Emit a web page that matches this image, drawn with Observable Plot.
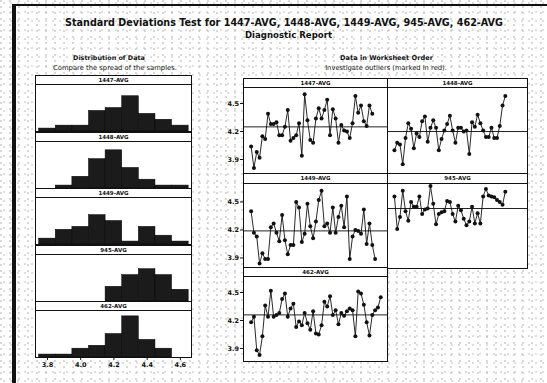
<!DOCTYPE html>
<html><head><meta charset="utf-8">
<script src="https://cdn.jsdelivr.net/npm/d3@7"></script>
<script src="https://cdn.jsdelivr.net/npm/@observablehq/plot@0.6"></script>
<style>
html,body{margin:0;padding:0;background:#fff;}
#page{position:relative;width:547px;height:383px;overflow:hidden;background-color:#fff;
 background-image:
   radial-gradient(circle at 1px 1px,#a0a0a0 0.5px,transparent 0.85px),
   radial-gradient(circle at 4px 3px,#b0b0b0 0.5px,transparent 0.85px);
 background-size:9px 6px, 7px 9px;}
.t{position:absolute;white-space:nowrap;font-family:"DejaVu Sans",sans-serif;color:#111;transform:translate(-50%,-50%);line-height:1;}
.p{position:absolute;}
.p svg{overflow:visible;}
</style></head><body><div id="page"></div>
<script>
// ---- data ----
const seriesNames = ["1447-AVG", "1448-AVG", "1449-AVG", "945-AVG", "462-AVG"];
const binStarts = [3.75, 3.85, 3.95, 4.05, 4.15, 4.25, 4.35, 4.45, 4.55];
const binWidth = 0.1;
const counts1447 = [1, 2, 2, 7, 8, 12, 6, 4, 2];
const counts1448 = [0, 1, 4, 10, 13, 7, 3, 1, 1];
const counts1449 = [2, 5, 6, 10, 8, 1, 6, 3, 1];
const counts945  = [0, 0, 0, 0, 5, 9, 11, 9, 4];
const counts462  = [1, 1, 3, 4, 8, 14, 6, 3, 0];
const histTicks = [3.8, 4.0, 4.2, 4.4, 4.6];

const obs1447 = [4.04,3.81,3.98,3.92,4.15,4.12,4.39,4.28,4.28,4.30,4.16,4.16,4.25,4.43,4.10,4.13,4.16,4.29,3.94,4.60,4.32,4.11,4.08,4.34,4.45,4.34,4.43,4.54,4.16,4.44,4.34,4.08,4.27,4.21,4.20,4.13,4.29,4.58,4.40,4.48,4.31,4.26,4.48,4.39];
const obs1448 = [4.00,4.08,4.06,3.85,4.13,4.29,4.23,4.02,4.18,4.14,4.31,4.36,4.09,4.24,4.32,4.24,4.00,4.12,4.21,4.28,4.37,4.21,4.08,4.24,4.24,4.20,4.21,3.96,4.30,4.25,4.38,4.29,4.21,4.14,4.14,4.24,4.13,4.13,4.26,4.48,4.58];
const obs1449 = [4.40,4.17,4.13,3.84,3.95,3.89,3.89,4.23,4.27,4.17,4.08,4.36,4.09,3.94,4.04,4.04,4.50,4.44,4.07,4.16,4.48,4.24,4.11,4.29,4.52,4.62,4.24,4.27,4.17,4.44,4.17,4.34,4.46,4.23,4.56,3.89,4.13,4.20,4.19,4.16,4.42,4.05,4.27,4.04,3.89];
const obs945  = [4.56,4.21,4.34,4.62,4.40,4.30,4.50,4.45,4.45,4.56,4.37,4.42,4.43,4.67,4.48,4.26,4.37,4.39,4.40,4.51,4.50,4.37,4.29,4.46,4.41,4.32,4.25,4.29,4.45,4.27,4.38,4.27,4.56,4.64,4.57,4.56,4.55,4.52,4.50,4.47,4.61];
const obs462  = [4.18,4.24,3.88,3.83,4.03,4.36,4.24,4.52,4.24,4.26,4.28,4.43,4.49,4.24,4.33,4.38,4.13,4.19,4.15,4.28,4.17,4.10,4.30,4.06,4.05,4.15,4.40,4.35,4.46,4.26,4.31,4.16,4.28,4.25,4.30,4.33,4.31,4.03,4.51,4.49,4.37,4.18,4.04,4.26,4.31,4.34,4.45];
const seriesMeans = [4.25, 4.20, 4.19, 4.43, 4.26];
const seriesTicks = [3.9, 4.2, 4.5];

const titleText = "Standard Deviations Test for 1447-AVG, 1448-AVG, 1449-AVG, 945-AVG, 462-AVG";
const subtitleText = "Diagnostic Report";
const leftHead = "Distribution of Data";
const leftSub = "Compare the spread of the samples.";
const rightHead = "Data in Worksheet Order";
const rightSub = "Investigate outliers (marked in red).";

// ---- page ----
const page = document.getElementById("page");
const ink = "#111";
const font = "DejaVu Sans, sans-serif";

function box(l, t, w, h, bg) {
  const d = document.createElement("div");
  d.style.cssText = `position:absolute;left:${l}px;top:${t}px;width:${w}px;height:${h}px;background:${bg};`;
  page.appendChild(d);
}
box(12, 4, 535, 2, ink);   // top border
box(12, 4, 4, 379, ink);   // left border

function addText(txt, cx, cy, w, weight) {
  const el = document.createElement("div");
  el.className = "t";
  el.textContent = txt;
  el.style.fontWeight = weight;
  el.style.fontSize = "10px";
  page.appendChild(el);
  const w0 = el.getBoundingClientRect().width;
  el.style.fontSize = (10 * w / w0).toFixed(2) + "px";
  el.style.left = cx + "px";
  el.style.top = cy + "px";
}
addText(titleText, 284, 23, 438, "bold");
addText(subtitleText, 288.5, 35, 87, "bold");
addText(leftHead, 109, 58, 72, "bold");
addText(leftSub, 115, 67.5, 124, "normal");
addText(rightHead, 386.5, 58, 93, "bold");
addText(rightSub, 386, 67.5, 122, "normal");

function place(node, l, t) {
  const d = document.createElement("div");
  d.className = "p";
  d.style.left = l + "px";
  d.style.top = t + "px";
  d.appendChild(node);
  page.appendChild(d);
}

// ---- histograms ----
const histCounts = [counts1447, counts1448, counts1449, counts945, counts462];
const histTops = [75, 131.5, 188, 244.5, 301];
const stripH = 9, histPlotH = 47;
const histLeft = 35, histW = 156;
histCounts.forEach((counts, k) => {
  const bins = binStarts.map((b, i) => ({x1: b, x2: b + binWidth, n: counts[i]})).filter(d => d.n > 0);
  const last = k === histCounts.length - 1;
  const mb = last ? 14 : 0;
  const chart = Plot.plot({
    width: histW, height: stripH + histPlotH + mb,
    marginLeft: 0, marginRight: 0, marginTop: stripH, marginBottom: mb,
    style: {fontFamily: font, fontSize: "6.5px", fontWeight: "bold", background: "transparent", color: ink},
    x: {domain: [3.728, 4.667], ticks: histTicks, tickFormat: d3.format(".1f"), tickSize: 3, tickPadding: 2, label: null, axis: last ? "bottom" : null},
    y: {domain: [0, 16], axis: null},
    marks: [
      Plot.frame({fill: "white", stroke: null, insetTop: -stripH}),
      Plot.rectY(bins, {x1: "x1", x2: "x2", y: "n", fill: "#1b1b1b", stroke: "#000", strokeWidth: 0.5}),
      Plot.frame({stroke: ink, strokeWidth: 1}),
      Plot.frame({stroke: ink, strokeWidth: 1, insetTop: -stripH}),
      Plot.text([seriesNames[k]], {frameAnchor: "top", dy: -stripH / 2, lineAnchor: "middle", fontSize: 5.5, fontWeight: "bold", fill: ink})
    ]
  });
  place(chart, histLeft, histTops[k]);
});

// ---- worksheet-order panels ----
const panels = [
  {k: 0, values: obs1447, left: 243, top: 78,  width: 144, strip: 9,  plotH: 86, yDomain: [3.75, 4.672], xDomain: [-1.7, 49.4], showY: true},
  {k: 1, values: obs1448, left: 387, top: 78,  width: 140, strip: 9,  plotH: 86, yDomain: [3.75, 4.672], xDomain: [-1.5, 49.0], showY: false},
  {k: 2, values: obs1449, left: 243, top: 173, width: 144, strip: 10, plotH: 85, yDomain: [3.787, 4.698], xDomain: [-1.7, 49.4], showY: true},
  {k: 3, values: obs945,  left: 387, top: 173, width: 140, strip: 10, plotH: 85, yDomain: [3.787, 4.698], xDomain: [-1.5, 49.0], showY: false},
  {k: 4, values: obs462,  left: 243, top: 267, width: 144, strip: 9,  plotH: 85, yDomain: [3.76, 4.672], xDomain: [-1.7, 49.4], showY: true}
];
panels.forEach(p => {
  const data = p.values.map((v, i) => ({i: i + 1, v}));
  const ml = p.showY ? 20 : 0;
  const chart = Plot.plot({
    width: p.width + ml, height: p.strip + p.plotH,
    marginLeft: ml, marginRight: 0, marginTop: p.strip, marginBottom: 0,
    style: {fontFamily: font, fontSize: "6.5px", fontWeight: "bold", background: "transparent", color: ink},
    x: {domain: p.xDomain, axis: null},
    y: {domain: p.yDomain, ticks: seriesTicks, tickFormat: d3.format(".1f"), tickSize: 3, tickPadding: 1.5, label: null, axis: p.showY ? "left" : null},
    marks: [
      Plot.frame({fill: "white", stroke: null, insetTop: -p.strip}),
      Plot.ruleY([seriesMeans[p.k]], {stroke: "#222", strokeWidth: 1}),
      Plot.line(data, {x: "i", y: "v", stroke: ink, strokeWidth: 0.9}),
      Plot.dot(data, {x: "i", y: "v", r: 2, fill: ink, stroke: "none"}),
      Plot.frame({stroke: ink, strokeWidth: 1}),
      Plot.frame({stroke: ink, strokeWidth: 1, insetTop: -p.strip}),
      Plot.text([seriesNames[p.k]], {frameAnchor: "top", dy: -p.strip / 2, lineAnchor: "middle", fontSize: 5.5, fontWeight: "bold", fill: ink})
    ]
  });
  place(chart, p.left - ml, p.top);
});
</script></body></html>
